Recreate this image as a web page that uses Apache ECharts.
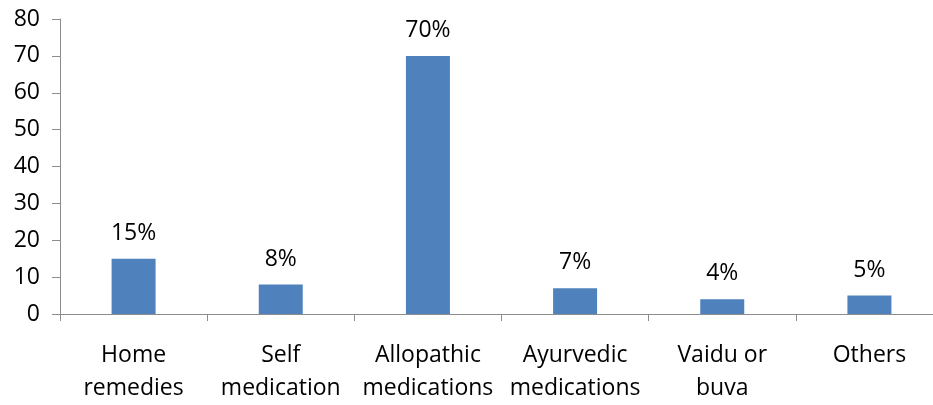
<!DOCTYPE html>
<html>
<head>
<meta charset="utf-8">
<script src="https://cdn.jsdelivr.net/npm/echarts@6/dist/echarts.min.js"></script>
<style>
  html, body { margin: 0; padding: 0; background: #fff; overflow: hidden; }
  /* the category axis runs a little past the right edge of the window */
  #chart { width: 943px; height: 405px; }
</style>
</head>
<body>
<div id="chart"></div>
<script>
// Treatment sought, share of respondents (%)
const categories = ['Home\nremedies', 'Self\nmedication', 'Allopathic\nmedications', 'Ayurvedic\nmedications', 'Vaidu or\nbuva', 'Others'];
const values = [15, 8, 70, 7, 4, 5];
const yTicks = { min: 0, max: 80, interval: 10 };

const chart = echarts.init(document.getElementById('chart'));
const font = '"Open Sans", "Noto Sans", sans-serif';
const axisGray = '#8c8c8c';

chart.setOption({
  animation: false,
  grid: { left: 60, right: 0, top: 19, bottom: 90 },
  xAxis: {
    type: 'category',
    data: categories,
    axisLine: { lineStyle: { color: axisGray, width: 1 } },
    axisTick: { show: true, length: 7, alignWithLabel: false, lineStyle: { color: axisGray } },
    axisLabel: {
      color: '#000', fontFamily: font, fontSize: 23, lineHeight: 33, margin: 25, interval: 0
    }
  },
  yAxis: {
    type: 'value',
    min: yTicks.min, max: yTicks.max, interval: yTicks.interval,
    splitLine: { show: false },
    axisLine: { show: true, lineStyle: { color: axisGray, width: 1 } },
    axisTick: { show: true, length: 8, lineStyle: { color: axisGray } },
    axisLabel: { color: '#000', fontFamily: font, fontSize: 23, margin: 20 }
  },
  series: [{
    type: 'bar',
    data: values,
    barWidth: 44,
    itemStyle: { color: '#4f81bd' },
    label: {
      show: true, position: 'top', distance: 14,
      formatter: p => p.value + '%',
      color: '#000', fontFamily: font, fontSize: 23
    }
  }]
});
</script>
</body>
</html>
